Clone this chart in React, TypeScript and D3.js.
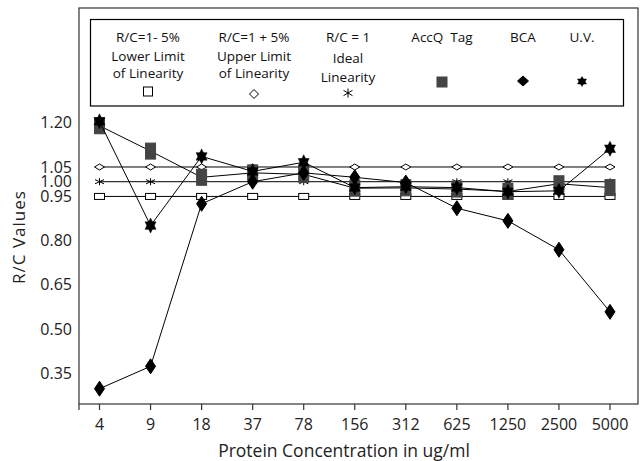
import * as d3 from 'd3';

// x categories (protein concentration, ug/ml)
const categories = ['4', '9', '18', '37', '78', '156', '312', '625', '1250', '2500', '5000'];

// R/C values
const lowerLimit = [0.95, 0.95, 0.95, 0.95, 0.95, 0.95, 0.95, 0.95, 0.95, 0.95, 0.95];
const upperLimit = [1.05, 1.05, 1.05, 1.05, 1.05, 1.05, 1.05, 1.05, 1.05, 1.05, 1.05];
const ideal = [1.0, 1.0, 1.0, 1.0, 1.0, 1.0, 1.0, 1.0, 1.0, 1.0, 1.0];
const accqTag = [1.19, 1.104, 1.015, 1.03, 1.025, 0.978, 0.979, 0.975, 0.967, 0.993, 0.98];
const bca = [0.297, 0.373, 0.925, 1.0, 1.03, 1.015, 0.997, 0.91, 0.867, 0.769, 0.558];
const uv = [1.205, 0.851, 1.086, 1.035, 1.066, 0.98, 0.983, 0.98, 0.966, 0.969, 1.112];

const yTicks = [0.35, 0.5, 0.65, 0.8, 0.95, 1.0, 1.05, 1.2];

const FONT = "'Open Sans', sans-serif";

type Shape = 'openSquare' | 'openDiamond' | 'asterisk' | 'square' | 'diamond' | 'star';

function marker(shape: Shape, x: number, y: number, w: number, h: number, key: string) {
  const hw = w / 2;
  const hh = h / 2;
  if (shape === 'openSquare' || shape === 'square') {
    return (
      <rect key={key} x={x - hw} y={y - hh} width={w} height={h}
        fill={shape === 'square' ? '#444' : '#fff'}
        stroke={shape === 'square' ? '#444' : '#000'} strokeWidth={1} />
    );
  }
  if (shape === 'openDiamond' || shape === 'diamond') {
    return (
      <path key={key} d={`M${x},${y - hh}L${x + hw},${y}L${x},${y + hh}L${x - hw},${y}Z`}
        fill={shape === 'diamond' ? '#000' : '#fff'} stroke="#000" strokeWidth={1} />
    );
  }
  if (shape === 'asterisk') {
    return (
      <path key={key}
        d={`M${x},${y - hh}L${x},${y + hh}M${x - hw},${y - hh * 0.6}L${x + hw},${y + hh * 0.6}M${x - hw},${y + hh * 0.6}L${x + hw},${y - hh * 0.6}`}
        fill="none" stroke="#000" strokeWidth={1} />
    );
  }
  // six-pointed star: two triangles with the same winding
  return (
    <path key={key}
      d={`M${x},${y - hh}L${x + hw},${y + hh / 2}L${x - hw},${y + hh / 2}Z M${x},${y + hh}L${x - hw},${y - hh / 2}L${x + hw},${y - hh / 2}Z`}
      fill="#000" stroke="#000" strokeWidth={0.5} />
  );
}

const series: { name: string; values: number[]; shape: Shape; w: number; h: number }[] = [
  { name: 'lower', values: lowerLimit, shape: 'openSquare', w: 10, h: 6 },
  { name: 'upper', values: upperLimit, shape: 'openDiamond', w: 10, h: 6 },
  { name: 'ideal', values: ideal, shape: 'asterisk', w: 9, h: 7 },
  { name: 'accq', values: accqTag, shape: 'square', w: 10, h: 16 },
  { name: 'bca', values: bca, shape: 'diamond', w: 10, h: 15 },
  { name: 'uv', values: uv, shape: 'star', w: 11, h: 15 },
];

const legendCols = [
  { lines: ['R/C=1- 5%', 'Lower Limit', 'of Linearity'], x: 148, ys: [42, 61, 78], shape: 'openSquare' as Shape, sy: 91.5, w: 9, h: 9 },
  { lines: ['R/C=1 + 5%', 'Upper Limit', 'of Linearity'], x: 254, ys: [42, 61, 78], shape: 'openDiamond' as Shape, sy: 94, w: 9, h: 9 },
  { lines: ['R/C = 1', 'Ideal', 'Linearity'], x: 348, ys: [42, 63, 81.5], shape: 'asterisk' as Shape, sy: 93, w: 9, h: 9 },
  { lines: ['AccQ\u00a0\u00a0Tag'], x: 442, ys: [42], shape: 'square' as Shape, sy: 82, w: 10, h: 10 },
  { lines: ['BCA'], x: 523, ys: [42], shape: 'diamond' as Shape, sy: 81, w: 11, h: 10 },
  { lines: ['U.V.'], x: 582, ys: [42], shape: 'star' as Shape, sy: 81.5, w: 9, h: 10 },
];

export default function App() {
  const width = 641;
  const height = 461;
  const left = 79;
  const right = 638;
  const top = 8;
  const bottom = 404;

  const x = d3.scalePoint<string>().domain(categories).range([99.5, 610]);
  const y = d3.scaleLinear().domain([0.245, 1.59]).range([bottom, top]);

  const line = d3
    .line<number>()
    .x((_, i) => x(categories[i]) as number)
    .y((d) => y(d));

  return (
    <svg width={width} height={height} style={{ position: 'absolute', left: 0, top: 0, background: '#fff' }}
      fontFamily={FONT}>
      {/* frame */}
      <rect x={left} y={top} width={right - left} height={bottom - top} fill="none" stroke="#333" strokeWidth={1.2} />
      <line x1={left} x2={left} y1={bottom} y2={bottom + 6} stroke="#333" strokeWidth={1.2} />

      {/* legend */}
      <rect x={90.5} y={19.5} width={533} height={86.5} fill="none" stroke="#000" strokeWidth={1.2} />
      {legendCols.map((c, i) => (
        <g key={i}>
          {c.lines.map((t, j) => (
            <text key={j} x={c.x} y={c.ys[j]} textAnchor="middle" fontSize={13.5} fill="#111">
              {t}
            </text>
          ))}
          {marker(c.shape, c.x, c.sy, c.w, c.h, 'lg' + i)}
        </g>
      ))}

      {/* x axis ticks */}
      {categories.map((c) => (
        <g key={c} transform={`translate(${x(c)},${bottom})`}>
          <line y2={6} stroke="#333" strokeWidth={1.2} />
          <text y={26} textAnchor="middle" fontSize={16} fill="#222">{c}</text>
        </g>
      ))}
      <text x={344} y={457} textAnchor="middle" fontSize={17.5} fill="#222">
        Protein Concentration in ug/ml
      </text>

      {/* y axis labels */}
      {yTicks.map((t) => (
        <text key={t} x={72} y={y(t)} dy="0.35em" textAnchor="end" fontSize={16} fill="#222">
          {d3.format('.2f')(t)}
        </text>
      ))}
      <text transform="translate(25,237) rotate(-90)" textAnchor="middle" fontSize={17} letterSpacing={1} fill="#222">
        R/C Values
      </text>

      {/* series */}
      {series.map((s) => (
        <g key={s.name}>
          <path d={line(s.values) ?? ''} fill="none" stroke="#000" strokeWidth={1} />
          {s.values.map((v, i) => marker(s.shape, x(categories[i]) as number, y(v), s.w, s.h, s.name + i))}
        </g>
      ))}
    </svg>
  );
}
